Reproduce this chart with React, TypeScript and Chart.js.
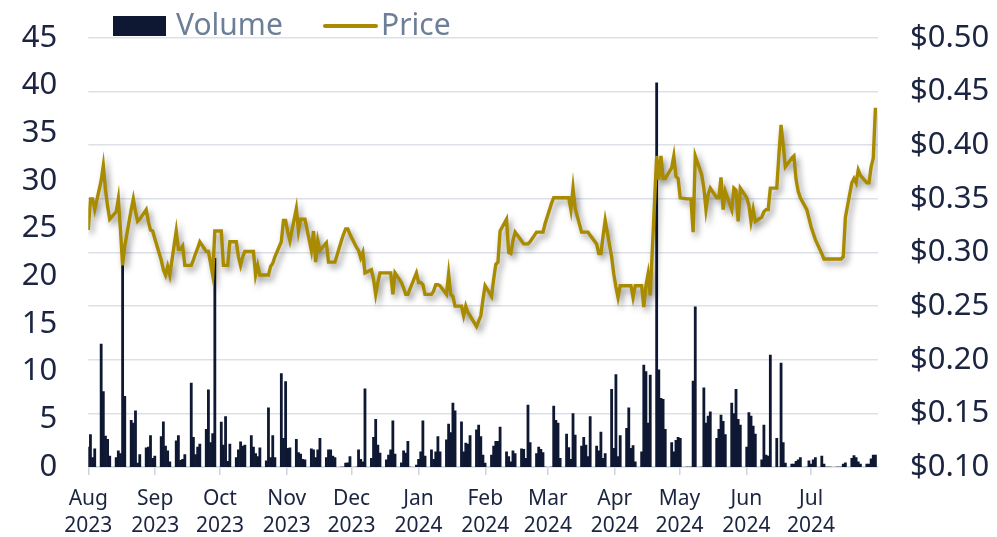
import React, { useEffect, useRef } from "react";
import { Chart, registerables } from "chart.js";

Chart.register(...registerables);

// ---- data -------------------------------------------------------------
// First trading day of the series (Tue 1 Aug 2023). Trading days = weekdays.
const FIRST_DAY_UTC = Date.UTC(2023, 7, 1);

// Daily volume, one row per week (Mon..Fri); first row is Tue..Fri.
const weeklyVolume: number[][] = [
  [2.1, 3.4, 1.0, 1.9],
  [12.9, 7.9, 3.25, 2.9, 1.15],
  [1.0, 1.7, 1.4, 21.3, 7.4],
  [4.9, 4.6, 5.9, 0.4, 1.3],
  [2.0, 2.1, 3.3, 0.9, 1.15],
  [3.2, 4.75, 2.2, 1.7, 0.55],
  [2.75, 3.3, 0.7, 0.8, 1.3],
  [8.8, 3.1, 1.3, 2.1, 2.4],
  [3.95, 8.1, 2.55, 3.5, 21.9],
  [4.7, 2.3, 5.3, 0.6, 2.4],
  [1.0, 1.8, 2.65, 2.2, 2.3],
  [3.3, 2.1, 1.4, 1.1, 2.0],
  [0.65, 6.2, 1.0, 3.3, 1.0],
  [9.8, 3.0, 8.95, 1.95, 2.0],
  [2.9, 1.5, 1.35, 0.8, 0.75],
  [1.9, 1.8, 1.0, 1.8, 3.0],
  [1.0, 1.8, 1.8, 1.15, 1.0],
  [0, 0, 0.4, 0.45, 1.1],
  [0, 1.8, 0.8, 0.55, 8.2],
  [0.9, 3.1, 5.0, 2.3, 1.45],
  [0.75, 1.25, 1.8, 4.85, 1.35],
  [0.45, 1.7, 1.45, 2.7, 0],
  [0.2, 0.8, 1.6, 4.85, 1.15],
  [1.8, 0.8, 1.6, 3.2, 1.6],
  [2.85, 4.5, 3.6, 6.7, 5.9],
  [4.75, 1.6, 2.5, 2.4, 3.3],
  [3.9, 4.4, 3.2, 1.25, 0.4],
  [1.25, 2.2, 2.7, 2.7, 4.2],
  [1.6, 1.1, 0.55, 1.7, 1.4],
  [1.9, 1.85, 0.9, 6.5, 2.55],
  [1.4, 2.1, 1.85, 1.5, 0],
  [0, 6.4, 4.9, 4.6, 0.9],
  [3.45, 2.05, 0.8, 5.6, 3.35],
  [2.2, 3.1, 2.3, 1.1, 5.3],
  [2.2, 1.7, 3.65, 0.9, 1.4],
  [8.15, 1.95, 9.7, 1.1, 3.3],
  [4.05, 6.2, 1.95, 2.25, 0.55],
  [1.6, 10.7, 10.0, 4.6, 9.65],
  [40.3, 10.2, 7.2, 7.1, 3.95],
  [2.55, 1.6, 2.8, 3.1, 3.0],
  [0, 0, 0, 9.0, 16.8],
  [0, 8.3, 4.6, 5.35, 5.8],
  [3.0, 3.95, 5.45, 4.8, 3.4],
  [6.7, 5.6, 8.15, 5.0, 4.4],
  [2.1, 5.7, 5.35, 4.3, 3.45],
  [0.75, 4.4, 1.25, 1.15, 11.75],
  [3.0, 0, 10.9, 2.55, 0.4],
  [0.3, 0.3, 0.6, 0.75, 1.0],
  [0, 0.65, 0.3, 0.75, 1.0],
  [1.15, 0.3, 0, 0, 0],
  [0, 0, 0, 0.3, 0.45],
  [0.9, 1.2, 1.0, 0.55, 0.3],
  [0.3, 0.3, 0.85, 1.25, 1.25],
];

// Daily closing price, same layout.
const weeklyPrice: number[][] = [
  [0.321, 0.35, 0.35, 0.34],
  [0.367, 0.381, 0.359, 0.343, 0.331],
  [0.338, 0.35, 0.321, 0.288, 0.306],
  [0.34, 0.35, 0.338, 0.329, 0.331],
  [0.34, 0.329, 0.321, 0.32, 0.313],
  [0.293, 0.284, 0.279, 0.287, 0.279],
  [0.32, 0.303, 0.303, 0.306, 0.288],
  [0.288, 0.293, 0.299, 0.304, 0.31],
  [0.301, 0.301, 0.29, 0.279, 0.32],
  [0.32, 0.288, 0.288, 0.288, 0.31],
  [0.31, 0.296, 0.288, 0.296, 0.301],
  [0.301, 0.301, 0.279, 0.288, 0.279],
  [0.279, 0.279, 0.287, 0.29, 0.296],
  [0.31, 0.33, 0.33, 0.319, 0.311],
  [0.341, 0.32, 0.331, 0.331, 0.331],
  [0.302, 0.32, 0.291, 0.311, 0.302],
  [0.309, 0.291, 0.291, 0.291, 0.291],
  [0.311, 0.317, 0.322, 0.322, 0.317],
  [0.305, 0.302, 0.295, 0.3, 0.281],
  [0.284, 0.275, 0.261, 0.272, 0.281],
  [0.281, 0.281, 0.281, 0.261, 0.281],
  [0.272, 0.267, 0.261, 0.261, 0.266],
  [0.281, 0.272, 0.272, 0.27, 0.261],
  [0.261, 0.264, 0.27, 0.27, 0.269],
  [0.261, 0.28, 0.261, 0.259, 0.25],
  [0.25, 0.241, 0.25, 0.244, 0.241],
  [0.231, 0.236, 0.241, 0.256, 0.269],
  [0.259, 0.275, 0.289, 0.291, 0.32],
  [0.331, 0.3, 0.299, 0.311, 0.319],
  [0.311, 0.308, 0.308, 0.308, 0.31],
  [0.319, 0.319, 0.319, 0.319, 0.327],
  [0.346, 0.351, 0.351, 0.351, 0.351],
  [0.351, 0.351, 0.34, 0.36, 0.341],
  [0.319, 0.319, 0.319, 0.319, 0.316],
  [0.308, 0.299, 0.299, 0.315, 0.33],
  [0.296, 0.28, 0.268, 0.258, 0.269],
  [0.269, 0.269, 0.269, 0.258, 0.269],
  [0.269, 0.249, 0.269, 0.28, 0.26],
  [0.39, 0.368, 0.39, 0.369, 0.369],
  [0.379, 0.39, 0.371, 0.369, 0.351],
  [0.35, 0.35, 0.35, 0.319, 0.39],
  [0.3725, 0.36, 0.34, 0.354, 0.36],
  [0.351, 0.351, 0.37, 0.34, 0.357],
  [0.34, 0.36, 0.358, 0.329, 0.36],
  [0.351, 0.344, 0.329, 0.34, 0.329],
  [0.333, 0.338, 0.34, 0.34, 0.36],
  [0.36, 0.391, 0.419, 0.4, 0.38],
  [0.388, 0.39, 0.368, 0.357, 0.351],
  [0.34, 0.332, 0.324, 0.318, 0.312],
  [0.299, 0.294, 0.294, 0.294, 0.294],
  [0.294, 0.294, 0.294, 0.296, 0.333],
  [0.365, 0.369, 0.365, 0.377, 0.372],
  [0.365, 0.365, 0.38, 0.388, 0.435],
];

// Month tick labels (first of each month)
const monthTickDates: [number, number][] = [
  [2023, 7], [2023, 8], [2023, 9], [2023, 10], [2023, 11],
  [2024, 0], [2024, 1], [2024, 2], [2024, 3], [2024, 4], [2024, 5], [2024, 6],
];
const monthNames = ["Jan", "Feb", "Mar", "Apr", "May", "Jun", "Jul", "Aug", "Sep", "Oct", "Nov", "Dec"];

const volumeTicks = { min: 0, max: 45, step: 5 };
const priceTicks = { min: 0.1, max: 0.5, step: 0.05 };

// ---- styling ------------------------------------------------------------
const NAVY = "#0f1833";
const GOLD = "#a88b00";
const AXIS_TEXT = "#1b2440";
const LEGEND_TEXT = "#6d7f98";
const GRID = "#dde1e7";
const FONT = '"Noto Sans", "Open Sans", sans-serif';
const DAY_MS = 86400000;
const X_MAX_DAYS = 368.2;
const TICK_STRETCH = 1.006;

function tradingDayOffsets(count: number): number[] {
  const out: number[] = [];
  for (let d = 0; out.length < count; d++) {
    const wd = new Date(FIRST_DAY_UTC + d * DAY_MS).getUTCDay();
    if (wd !== 0 && wd !== 6) out.push(d);
  }
  return out;
}

const legendPlugin = {
  id: "customLegend",
  afterDraw(chart: any) {
    const ctx = chart.ctx;
    const ds = chart.data.datasets;
    ctx.save();
    ctx.font = `30px ${FONT}`;
    ctx.textBaseline = "alphabetic";
    ctx.textAlign = "left";
    ctx.fillStyle = NAVY;
    ctx.fillRect(113, 16, 53, 20);
    ctx.fillStyle = LEGEND_TEXT;
    ctx.fillText(ds[1].label, 176, 35);
    ctx.strokeStyle = GOLD;
    ctx.lineWidth = 4;
    ctx.lineCap = "round";
    ctx.beginPath();
    ctx.moveTo(325, 26);
    ctx.lineTo(376, 26);
    ctx.stroke();
    ctx.fillText(ds[0].label, 381, 35);
    ctx.restore();
  },
};

const shadowPlugin = {
  id: "lineShadow",
  beforeDatasetDraw(chart: any, args: any) {
    if (args.index === 0) {
      const ctx = chart.ctx;
      ctx.save();
      ctx.shadowColor = "rgba(0,0,0,0.42)";
      ctx.shadowBlur = 6;
      ctx.shadowOffsetX = 3;
      ctx.shadowOffsetY = 4;
    }
  },
  afterDatasetDraw(chart: any, args: any) {
    if (args.index === 0) chart.ctx.restore();
  },
};

export default function App() {
  const canvasRef = useRef<HTMLCanvasElement | null>(null);

  useEffect(() => {
    document.body.style.margin = "0";
    const volume = weeklyVolume.flat();
    const price = weeklyPrice.flat();
    const days = tradingDayOffsets(volume.length);
    const monthTicks = monthTickDates.map(([y, m]) => ({
      value: ((Date.UTC(y, m, 1) - FIRST_DAY_UTC) / DAY_MS) * TICK_STRETCH,
      label: [monthNames[m], String(y)],
    }));

    Chart.defaults.font.family = FONT;
    const chart = new Chart(canvasRef.current as HTMLCanvasElement, {
      type: "bar",
      data: {
        datasets: [
          {
            type: "line",
            label: "Price",
            data: price.map((p, i) => ({ x: days[i], y: p })),
            yAxisID: "y1",
            borderColor: GOLD,
            backgroundColor: GOLD,
            borderWidth: 3.4,
            pointRadius: 0,
            tension: 0,
            order: 1,
          } as any,
          {
            type: "bar",
            label: "Volume",
            data: volume.map((v, i) => ({ x: days[i], y: v })),
            yAxisID: "y",
            backgroundColor: NAVY,
            barPercentage: 1,
            categoryPercentage: 1,
            order: 2,
          } as any,
        ],
      },
      options: {
        animation: false,
        responsive: false,
        devicePixelRatio: 1,
        layout: { padding: { top: 38, left: 0, right: 0, bottom: 0 } },
        plugins: { legend: { display: false }, tooltip: { enabled: false } },
        scales: {
          x: {
            type: "linear",
            min: 0,
            max: X_MAX_DAYS,
            offset: false,
            grid: {
              offset: false,
              drawOnChartArea: false,
              drawTicks: true,
              tickLength: 8,
              color: "#cfd4dc",
              lineWidth: 1.5,
            },
            border: { display: true, color: "#d3d8df", width: 1.5 },
            afterBuildTicks: (scale: any) => {
              scale.ticks = monthTicks.map((t) => ({ value: t.value }));
            },
            afterFit: (scale: any) => {
              scale.height = 70;
            },
            ticks: {
              autoSkip: false,
              maxRotation: 0,
              minRotation: 0,
              padding: 10,
              color: AXIS_TEXT,
              font: { size: 21, lineHeight: 1.3 },
              callback: (_v: any, i: number) => monthTicks[i].label,
            },
          },
          y: {
            type: "linear",
            position: "left",
            min: volumeTicks.min,
            max: volumeTicks.max,
            grid: { display: false, drawTicks: false },
            border: { display: false },
            afterFit: (scale: any) => {
              scale.width = 88.3;
              scale.paddingTop = 0;
              scale.paddingBottom = 0;
            },
            ticks: {
              stepSize: volumeTicks.step,
              padding: 31,
              color: AXIS_TEXT,
              font: { size: 31 },
            },
          },
          y1: {
            type: "linear",
            position: "right",
            min: priceTicks.min,
            max: priceTicks.max,
            grid: { color: GRID, lineWidth: 1.5, drawTicks: false },
            border: { display: false },
            afterFit: (scale: any) => {
              scale.width = 119;
              scale.paddingTop = 0;
              scale.paddingBottom = 0;
            },
            ticks: {
              stepSize: priceTicks.step,
              padding: 32,
              color: AXIS_TEXT,
              font: { size: 31 },
              callback: (v: any) => "$" + Number(v).toFixed(2),
            },
          },
        },
      } as any,
      plugins: [shadowPlugin, legendPlugin],
    });
    return () => chart.destroy();
  }, []);

  return (
    <div style={{ width: 997, height: 537, position: "relative", background: "#fff" }}>
      <canvas ref={canvasRef} width={997} height={537} style={{ display: "block" }} />
    </div>
  );
}
